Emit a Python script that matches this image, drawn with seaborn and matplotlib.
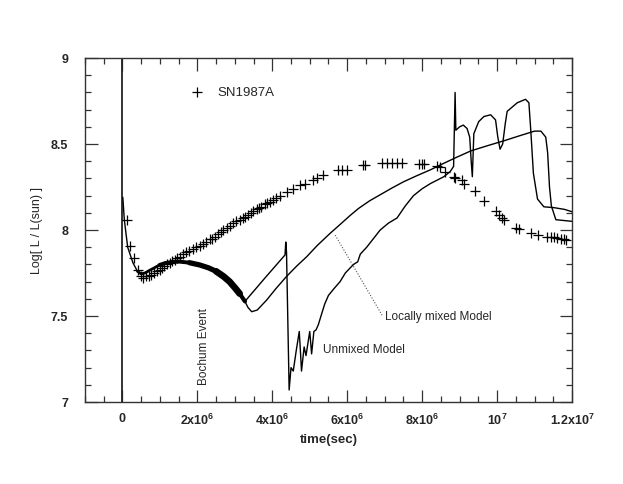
import numpy as np
import pandas as pd
import matplotlib
matplotlib.use('Agg')
import matplotlib.pyplot as plt
import seaborn as sns
from matplotlib.ticker import MultipleLocator, FixedLocator, FixedFormatter

# times are given in units of 10^6 sec, converted below
# SN1987A bolometric light curve (plus markers)
sn_t = [0.12, 0.20, 0.30, 0.41, 0.50, 0.56, 0.63, 0.70, 0.77, 0.85, 0.92, 0.99,
        1.06, 1.12, 1.20, 1.27, 1.33, 1.39, 1.46, 1.53, 1.62, 1.70, 1.79, 1.88,
        1.97, 2.06, 2.15, 2.24, 2.33, 2.40, 2.46, 2.56, 2.63, 2.69, 2.78, 2.86,
        2.95, 3.04, 3.13, 3.22, 3.27, 3.35, 3.42, 3.49, 3.58, 3.65, 3.71, 3.80,
        3.85, 3.94, 4.02, 4.11, 4.20, 4.40, 4.56, 4.74, 4.87, 5.10, 5.20, 5.36,
        5.76, 5.86, 5.99, 6.43, 6.47, 6.93, 7.06, 7.19, 7.33, 7.46, 7.91, 8.00,
        8.04, 8.40, 8.49, 8.62, 8.84, 8.89, 9.07, 9.11, 9.42, 9.65, 9.96, 10.05,
        10.14, 10.18, 10.50, 10.58, 10.90, 11.08, 11.34, 11.43, 11.52, 11.61,
        11.70, 11.79, 11.85]
sn_L = [8.06, 7.91, 7.835, 7.77, 7.73, 7.72, 7.73, 7.735, 7.74, 7.75, 7.76, 7.77,
        7.78, 7.79, 7.80, 7.81, 7.82, 7.826, 7.835, 7.845, 7.86, 7.87, 7.88, 7.89,
        7.90, 7.91, 7.92, 7.93, 7.945, 7.95, 7.96, 7.975, 7.99, 8.00, 8.01, 8.025,
        8.04, 8.05, 8.06, 8.07, 8.075, 8.09, 8.10, 8.11, 8.12, 8.13, 8.135, 8.15,
        8.155, 8.165, 8.175, 8.185, 8.20, 8.22, 8.24, 8.26, 8.27, 8.29, 8.30, 8.32,
        8.35, 8.35, 8.35, 8.38, 8.38, 8.39, 8.39, 8.39, 8.39, 8.39, 8.385, 8.385,
        8.385, 8.37, 8.365, 8.34, 8.31, 8.30, 8.29, 8.27, 8.225, 8.17, 8.11, 8.09,
        8.07, 8.06, 8.01, 8.005, 7.985, 7.97, 7.96, 7.96, 7.957, 7.953,
        7.95, 7.946, 7.94]

# common early part of both models
early_t = [0.01, 0.05, 0.14, 0.28, 0.40, 0.50, 0.60, 0.72, 0.85, 0.99, 1.15, 1.35,
           1.53, 1.79, 2.06, 2.30, 2.50, 2.70, 2.86, 3.00, 3.13, 3.27]
early_L = [8.19, 8.06, 7.90, 7.81, 7.76, 7.745, 7.75, 7.765, 7.78, 7.797, 7.808, 7.815,
           7.816, 7.81, 7.797, 7.78, 7.76, 7.73, 7.70, 7.665, 7.63, 7.585]

# locally mixed model
mixed_t = [3.27, 3.35, 3.45, 3.60, 3.85, 4.10, 4.38, 4.65, 4.92, 5.20, 5.54, 5.85,
           6.08, 6.30, 6.60, 6.88, 7.20, 7.50, 7.85, 8.22, 8.55, 8.89, 9.30, 9.74,
           10.20, 10.63, 11.00, 11.17, 11.30, 11.35, 11.40, 11.45, 11.57, 12.02]
mixed_L = [7.585, 7.55, 7.525, 7.535, 7.593, 7.66, 7.73, 7.79, 7.845, 7.91, 7.98, 8.04,
           8.085, 8.125, 8.17, 8.205, 8.245, 8.28, 8.315, 8.35, 8.385, 8.42, 8.46, 8.49,
           8.52, 8.55, 8.575, 8.575, 8.54, 8.45, 8.25, 8.14, 8.06, 8.05]

# unmixed model
unmixed_t = [3.27, 3.80, 4.34, 4.36, 4.38, 4.45, 4.50, 4.56, 4.64, 4.72, 4.75, 4.78,
             4.85, 4.90, 5.00, 5.05, 5.11, 5.17, 5.23, 5.30, 5.40, 5.50, 5.65, 5.81,
             5.95, 6.08, 6.17, 6.28, 6.35, 6.52, 6.70, 6.88, 7.10, 7.33, 7.55, 7.77,
             8.00, 8.22, 8.40, 8.58, 8.75, 8.84, 8.88, 8.90, 9.00, 9.10, 9.20, 9.27,
             9.31, 9.34, 9.38, 9.51, 9.65, 9.83, 9.96, 10.02, 10.08, 10.15, 10.22,
             10.27, 10.54, 10.76, 10.85, 10.90, 10.97, 11.08, 11.25, 11.52, 11.80, 12.02]
unmixed_L = [7.585, 7.72, 7.855, 7.93, 7.87, 7.07, 7.20, 7.18, 7.30, 7.41, 7.30, 7.18,
             7.32, 7.27, 7.41, 7.28, 7.41, 7.42, 7.45, 7.50, 7.57, 7.62, 7.66, 7.70,
             7.75, 7.78, 7.80, 7.815, 7.86, 7.90, 7.95, 8.00, 8.04, 8.07, 8.14, 8.20,
             8.24, 8.27, 8.29, 8.31, 8.34, 8.37, 8.80, 8.58, 8.60, 8.61, 8.59, 8.54,
             8.40, 8.31, 8.56, 8.63, 8.66, 8.67, 8.64, 8.54, 8.47, 8.50, 8.62,
             8.69, 8.74, 8.76, 8.74, 8.58, 8.33, 8.18, 8.135, 8.13, 8.12, 8.105]

# leader line from the locally mixed curve to its label
leader_t = [5.68, 6.93]
leader_L = [7.97, 7.505]

x_ticks = [0, 2e6, 4e6, 6e6, 8e6, 1e7, 1.2e7]
x_labels = ['0', '2x10$^6$', '4x10$^6$', '6x10$^6$', '8x10$^6$', '10$^7$', '1.2x10$^7$']
y_ticks = [7, 7.5, 8, 8.5, 9]
y_labels = ['7', '7.5', '8', '8.5', '9']

T = 1e6
sn = pd.DataFrame({'t': np.array(sn_t) * T, 'L': sn_L})
early = pd.DataFrame({'t': np.array(early_t) * T, 'L': early_L})
mixed = pd.DataFrame({'t': np.array(mixed_t) * T, 'L': mixed_L})
unmixed = pd.DataFrame({'t': np.array(unmixed_t) * T, 'L': unmixed_L})

sns.set_style('ticks')
plt.rcParams['font.family'] = ['Liberation Sans', 'DejaVu Sans']
plt.rcParams['mathtext.default'] = 'regular'

fig = plt.figure(figsize=(6.23, 4.84), dpi=100)
ax = fig.add_axes([0.1364, 0.1694, 0.7817, 0.7107])

ax.axvline(0, color='#222222', lw=1.3, zorder=1)

line_kw = dict(x='t', y='L', estimator=None, sort=False, color='black', ax=ax)
sns.lineplot(data=early, lw=1.0, **line_kw)
# thick band where the model is drawn densely
for lo, hi, w in [(0.40, 1.0, 2.0), (0.99, 1.80, 2.8), (1.79, 2.51, 3.8),
                  (2.50, 3.14, 4.8), (3.13, 3.27, 3.0)]:
    seg = early[(early['t'] >= lo * T) & (early['t'] <= hi * T)]
    sns.lineplot(data=seg, lw=w, solid_capstyle='round', solid_joinstyle='round', **line_kw)
sns.lineplot(data=mixed, lw=1.0, **line_kw)
sns.lineplot(data=unmixed, lw=1.0, **line_kw)
ax.plot(np.array(leader_t) * T, leader_L, color='#555555', lw=0.8, ls=(0, (1, 1.5)))

sns.scatterplot(data=sn, x='t', y='L', marker='+', s=50, color='black',
                linewidth=0.9, label='SN1987A', ax=ax, zorder=3)

ax.text(2.17e6, 7.10, 'Bochum Event', rotation=90, ha='center', va='bottom', fontsize=8.5)
ax.text(5.36e6, 7.30, 'Unmixed Model', ha='left', va='center', fontsize=8.5)
ax.text(7.0e6, 7.494, 'Locally mixed Model', ha='left', va='center', fontsize=8.5)

ax.set_xlim(-1e6, 1.2e7)
ax.set_ylim(7, 9)
ax.xaxis.set_major_locator(FixedLocator(x_ticks))
ax.xaxis.set_major_formatter(FixedFormatter(x_labels))
ax.xaxis.set_minor_locator(MultipleLocator(5e5))
ax.yaxis.set_major_locator(FixedLocator(y_ticks))
ax.yaxis.set_major_formatter(FixedFormatter(y_labels))
ax.yaxis.set_minor_locator(MultipleLocator(0.1))
ax.tick_params(which='both', direction='in', top=True, right=True, width=0.9, color='#333333')
ax.tick_params(which='major', length=9)
ax.tick_params(which='minor', length=4.3)
ax.tick_params(axis='x', pad=8, labelsize=9)
ax.tick_params(axis='y', pad=12, labelsize=9)
for lab in ax.get_xticklabels() + ax.get_yticklabels():
    lab.set_fontweight('bold')
for sp in ax.spines.values():
    sp.set_linewidth(1.0)
    sp.set_color('#333333')

ax.set_xlabel('time(sec)', fontsize=9.5, fontweight='bold', labelpad=4)
ax.set_ylabel('Log[ L / L(sun) ]', fontsize=9, labelpad=6)

ax.legend(loc='center left', bbox_to_anchor=(0.217, 0.899), frameon=False,
          fontsize=9.5, handlelength=1.0, handletextpad=1.0, borderpad=0,
          borderaxespad=0)

fig.savefig('out.png', dpi=100)
